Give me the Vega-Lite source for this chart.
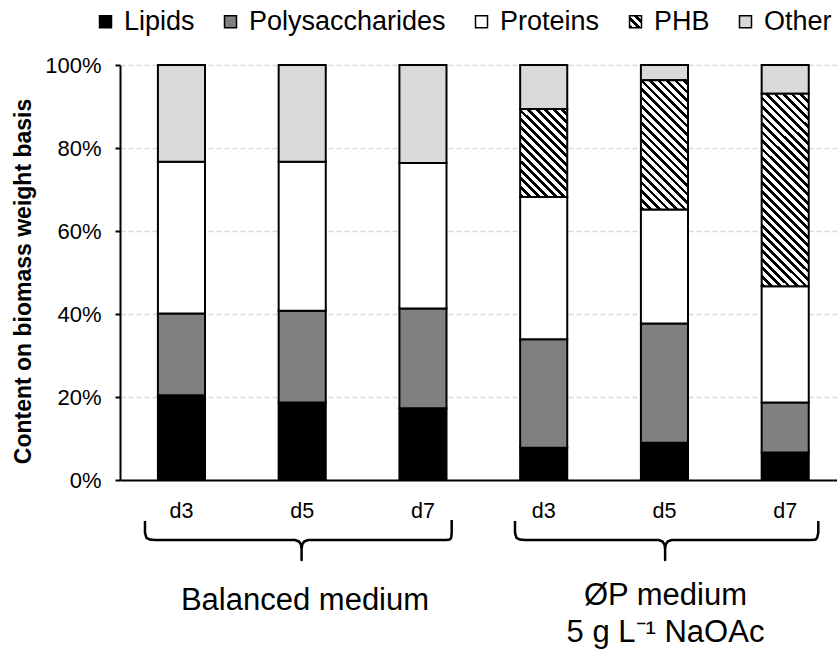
{
  "$schema": "https://vega.github.io/schema/vega-lite/v6.json",
  "autosize": {"type": "none"},
  "padding": {"left": 120, "top": 65, "right": 0, "bottom": 177},
  "width": 717,
  "height": 415,
  "background": "#ffffff",
  "config": {"font": "Liberation Sans", "view": {"stroke": null}},
  "params": [
    {"name": "phbLegendFill", "value": {"gradient": "linear", "x1": 0, "y1": 1, "x2": 1, "y2": 0, "stops": [
      {"offset": 0, "color": "#000000"}, {"offset": 0.15, "color": "#000000"}, {"offset": 0.15, "color": "#ffffff"}, {"offset": 0.333, "color": "#ffffff"},
      {"offset": 0.333, "color": "#000000"}, {"offset": 0.483, "color": "#000000"}, {"offset": 0.483, "color": "#ffffff"}, {"offset": 0.667, "color": "#ffffff"},
      {"offset": 0.667, "color": "#000000"}, {"offset": 0.817, "color": "#000000"}, {"offset": 0.817, "color": "#ffffff"}, {"offset": 1, "color": "#ffffff"}]}}
  ],
  "datasets": {
    "bars": [
      {"cat": "B-d3", "comp": "Lipids", "ord": 1, "value": 0.204},
      {"cat": "B-d3", "comp": "Polysaccharides", "ord": 2, "value": 0.197},
      {"cat": "B-d3", "comp": "Proteins", "ord": 3, "value": 0.366},
      {"cat": "B-d3", "comp": "Other", "ord": 5, "value": 0.233},
      {"cat": "B-d5", "comp": "Lipids", "ord": 1, "value": 0.187},
      {"cat": "B-d5", "comp": "Polysaccharides", "ord": 2, "value": 0.221},
      {"cat": "B-d5", "comp": "Proteins", "ord": 3, "value": 0.359},
      {"cat": "B-d5", "comp": "Other", "ord": 5, "value": 0.233},
      {"cat": "B-d7", "comp": "Lipids", "ord": 1, "value": 0.173},
      {"cat": "B-d7", "comp": "Polysaccharides", "ord": 2, "value": 0.240},
      {"cat": "B-d7", "comp": "Proteins", "ord": 3, "value": 0.351},
      {"cat": "B-d7", "comp": "Other", "ord": 5, "value": 0.236},
      {"cat": "P-d3", "comp": "Lipids", "ord": 1, "value": 0.078},
      {"cat": "P-d3", "comp": "Polysaccharides", "ord": 2, "value": 0.261},
      {"cat": "P-d3", "comp": "Proteins", "ord": 3, "value": 0.343},
      {"cat": "P-d3", "comp": "PHB", "ord": 4, "value": 0.212},
      {"cat": "P-d3", "comp": "Other", "ord": 5, "value": 0.106},
      {"cat": "P-d5", "comp": "Lipids", "ord": 1, "value": 0.090},
      {"cat": "P-d5", "comp": "Polysaccharides", "ord": 2, "value": 0.287},
      {"cat": "P-d5", "comp": "Proteins", "ord": 3, "value": 0.275},
      {"cat": "P-d5", "comp": "PHB", "ord": 4, "value": 0.311},
      {"cat": "P-d5", "comp": "Other", "ord": 5, "value": 0.037},
      {"cat": "P-d7", "comp": "Lipids", "ord": 1, "value": 0.066},
      {"cat": "P-d7", "comp": "Polysaccharides", "ord": 2, "value": 0.121},
      {"cat": "P-d7", "comp": "Proteins", "ord": 3, "value": 0.280},
      {"cat": "P-d7", "comp": "PHB", "ord": 4, "value": 0.464},
      {"cat": "P-d7", "comp": "Other", "ord": 5, "value": 0.069}
    ],
    "brace": [
      {"grp": "B", "k": 1, "bx": -0.3023, "by": -0.0988},
      {"grp": "B", "k": 2, "bx": -0.3023, "by": -0.1277},
      {"grp": "B", "k": 3, "bx": -0.2899, "by": -0.1393},
      {"grp": "B", "k": 4, "bx": -0.2609, "by": -0.1436},
      {"grp": "B", "k": 5, "bx": -0.2195, "by": -0.1446},
      {"grp": "B", "k": 6, "bx": 0.9400, "by": -0.1446},
      {"grp": "B", "k": 7, "bx": 0.9731, "by": -0.1482},
      {"grp": "B", "k": 8, "bx": 0.9896, "by": -0.1554},
      {"grp": "B", "k": 9, "bx": 0.9946, "by": -0.1663},
      {"grp": "B", "k": 10, "bx": 0.9946, "by": -0.1928},
      {"grp": "B", "k": 11, "bx": 0.9946, "by": -0.1663},
      {"grp": "B", "k": 12, "bx": 0.9996, "by": -0.1554},
      {"grp": "B", "k": 13, "bx": 1.0161, "by": -0.1482},
      {"grp": "B", "k": 14, "bx": 1.0493, "by": -0.1446},
      {"grp": "B", "k": 15, "bx": 2.1946, "by": -0.1446},
      {"grp": "B", "k": 16, "bx": 2.2203, "by": -0.1436},
      {"grp": "B", "k": 17, "bx": 2.2335, "by": -0.1393},
      {"grp": "B", "k": 18, "bx": 2.2377, "by": -0.1277},
      {"grp": "B", "k": 19, "bx": 2.2377, "by": -0.0964},
      {"grp": "P", "k": 1, "bx": 2.7619, "by": -0.0988},
      {"grp": "P", "k": 2, "bx": 2.7619, "by": -0.1277},
      {"grp": "P", "k": 3, "bx": 2.7743, "by": -0.1393},
      {"grp": "P", "k": 4, "bx": 2.8033, "by": -0.1436},
      {"grp": "P", "k": 5, "bx": 2.8447, "by": -0.1446},
      {"grp": "P", "k": 6, "bx": 3.9503, "by": -0.1446},
      {"grp": "P", "k": 7, "bx": 3.9834, "by": -0.1482},
      {"grp": "P", "k": 8, "bx": 4.0000, "by": -0.1554},
      {"grp": "P", "k": 9, "bx": 4.0050, "by": -0.1663},
      {"grp": "P", "k": 10, "bx": 4.0050, "by": -0.1928},
      {"grp": "P", "k": 11, "bx": 4.0050, "by": -0.1663},
      {"grp": "P", "k": 12, "bx": 4.0099, "by": -0.1554},
      {"grp": "P", "k": 13, "bx": 4.0265, "by": -0.1482},
      {"grp": "P", "k": 14, "bx": 4.0596, "by": -0.1446},
      {"grp": "P", "k": 15, "bx": 5.2199, "by": -0.1446},
      {"grp": "P", "k": 16, "bx": 5.2530, "by": -0.1436},
      {"grp": "P", "k": 17, "bx": 5.2638, "by": -0.1393},
      {"grp": "P", "k": 18, "bx": 5.2737, "by": -0.1277},
      {"grp": "P", "k": 19, "bx": 5.2737, "by": -0.0988}
    ],
    "labels": [
      {"label": "Balanced medium", "tx": 1.0228, "ty": -0.3133},
      {"label": "ØP medium", "tx": 4.0083, "ty": -0.3012},
      {"label": "5 g L⁻¹ NaOAc", "tx": 4.0083, "ty": -0.3896}
    ]
  },
  "layer": [
    {
      "data": {"name": "bars"},
      "transform": [
        {"stack": "value", "groupby": ["cat"], "sort": [{"field": "ord", "order": "ascending"}], "as": ["s0", "s1"]},
        {"filter": "datum.comp !== 'PHB'"}
      ],
      "mark": {"type": "bar", "stroke": "#000000", "strokeWidth": 2},
      "encoding": {
        "x": {
          "field": "cat", "type": "nominal",
          "scale": {"domain": ["B-d3", "B-d5", "B-d7", "P-d3", "P-d5", "P-d7"], "paddingInner": 0.61, "paddingOuter": 0.274, "align": 0.573},
          "axis": {"title": null, "labelExpr": "split(datum.label, '-')[1]", "ticks": false, "tickSize": 0, "labelPadding": 20, "labelFontSize": 21.5, "labelColor": "#000000", "labelAngle": 0, "domainColor": "#000000", "domainWidth": 2, "grid": false}
        },
        "y": {
          "field": "s0", "type": "quantitative",
          "scale": {"domain": [0, 1], "nice": false},
          "axis": {"values": [0, 0.2, 0.4, 0.6, 0.8, 1], "format": ".0%", "labelFontSize": 22, "labelColor": "#000000", "labelPadding": 14, "domainColor": "#000000", "domainWidth": 2, "tickColor": "#000000", "tickWidth": 2, "tickSize": 5, "grid": true, "gridColor": "#d9d9d9", "gridDash": [5, 3], "gridWidth": 1.5, "title": "Content on biomass weight basis", "titleFontSize": 23, "titleFontWeight": "bold", "titleColor": "#000000", "titleX": -90, "titleY": 216, "titleAngle": 270, "titleAlign": "center", "titleBaseline": "alphabetic"}
        },
        "y2": {"field": "s1"},
        "color": {
          "field": "comp", "type": "nominal",
          "scale": {
            "domain": ["Lipids", "Polysaccharides", "Proteins", "PHB", "Other"],
            "range": ["#000000", "#808080", "#ffffff", {"expr": "phbLegendFill"}, "#d9d9d9"]
          },
          "legend": {
            "orient": "none", "legendX": -28, "legendY": -57, "direction": "horizontal", "title": null, "padding": 0,
            "labelFontSize": 27, "labelColor": "#000000", "labelLimit": 400, "labelOffset": 5,
            "symbolType": "square", "symbolSize": 144, "symbolStrokeColor": "#000000", "symbolStrokeWidth": 1.5,
            "columnPadding": 22,
            "encode": {"symbols": {"update": {
              "stroke": {"value": "#000000"},
              "strokeWidth": {"value": 1.5}
            }}}
          }
        }
      }
    },
    {
      "data": {"name": "bars"},
      "transform": [
        {"stack": "value", "groupby": ["cat"], "sort": [{"field": "ord", "order": "ascending"}], "as": ["s0", "s1"]},
        {"filter": "datum.comp === 'PHB'"}
      ],
      "mark": {"type": "bar", "stroke": "#000000", "strokeWidth": 2},
      "encoding": {
        "x": {
          "field": "cat", "type": "nominal",
          "scale": {"domain": ["B-d3", "B-d5", "B-d7", "P-d3", "P-d5", "P-d7"], "paddingInner": 0.61, "paddingOuter": 0.274, "align": 0.573},
          "axis": null
        },
        "y": {"field": "s0", "type": "quantitative", "scale": {"domain": [0, 1], "nice": false}},
        "y2": {"field": "s1"},
        "fill": {
          "condition": [
            {"test": "datum.cat === 'P-d3'", "value": {"gradient": "linear", "x1": 0, "y1": 1, "x2": 1.2042, "y2": -1.2546, "stops": [
                {"offset": 0, "color": "#000000"}, {"offset": 0.015, "color": "#000000"}, {"offset": 0.015, "color": "#ffffff"}, {"offset": 0.0333, "color": "#ffffff"},
                {"offset": 0.0333, "color": "#000000"}, {"offset": 0.0483, "color": "#000000"}, {"offset": 0.0483, "color": "#ffffff"}, {"offset": 0.0667, "color": "#ffffff"},
                {"offset": 0.0667, "color": "#000000"}, {"offset": 0.0817, "color": "#000000"}, {"offset": 0.0817, "color": "#ffffff"}, {"offset": 0.1, "color": "#ffffff"},
                {"offset": 0.1, "color": "#000000"}, {"offset": 0.115, "color": "#000000"}, {"offset": 0.115, "color": "#ffffff"}, {"offset": 0.1333, "color": "#ffffff"},
                {"offset": 0.1333, "color": "#000000"}, {"offset": 0.1483, "color": "#000000"}, {"offset": 0.1483, "color": "#ffffff"}, {"offset": 0.1667, "color": "#ffffff"},
                {"offset": 0.1667, "color": "#000000"}, {"offset": 0.1817, "color": "#000000"}, {"offset": 0.1817, "color": "#ffffff"}, {"offset": 0.2, "color": "#ffffff"},
                {"offset": 0.2, "color": "#000000"}, {"offset": 0.215, "color": "#000000"}, {"offset": 0.215, "color": "#ffffff"}, {"offset": 0.2333, "color": "#ffffff"},
                {"offset": 0.2333, "color": "#000000"}, {"offset": 0.2483, "color": "#000000"}, {"offset": 0.2483, "color": "#ffffff"}, {"offset": 0.2667, "color": "#ffffff"},
                {"offset": 0.2667, "color": "#000000"}, {"offset": 0.2817, "color": "#000000"}, {"offset": 0.2817, "color": "#ffffff"}, {"offset": 0.3, "color": "#ffffff"},
                {"offset": 0.3, "color": "#000000"}, {"offset": 0.315, "color": "#000000"}, {"offset": 0.315, "color": "#ffffff"}, {"offset": 0.3333, "color": "#ffffff"},
                {"offset": 0.3333, "color": "#000000"}, {"offset": 0.3483, "color": "#000000"}, {"offset": 0.3483, "color": "#ffffff"}, {"offset": 0.3667, "color": "#ffffff"},
                {"offset": 0.3667, "color": "#000000"}, {"offset": 0.3817, "color": "#000000"}, {"offset": 0.3817, "color": "#ffffff"}, {"offset": 0.4, "color": "#ffffff"},
                {"offset": 0.4, "color": "#000000"}, {"offset": 0.415, "color": "#000000"}, {"offset": 0.415, "color": "#ffffff"}, {"offset": 0.4333, "color": "#ffffff"},
                {"offset": 0.4333, "color": "#000000"}, {"offset": 0.4483, "color": "#000000"}, {"offset": 0.4483, "color": "#ffffff"}, {"offset": 0.4667, "color": "#ffffff"},
                {"offset": 0.4667, "color": "#000000"}, {"offset": 0.4817, "color": "#000000"}, {"offset": 0.4817, "color": "#ffffff"}, {"offset": 0.5, "color": "#ffffff"},
                {"offset": 0.5, "color": "#000000"}, {"offset": 0.515, "color": "#000000"}, {"offset": 0.515, "color": "#ffffff"}, {"offset": 0.5333, "color": "#ffffff"},
                {"offset": 0.5333, "color": "#000000"}, {"offset": 0.5483, "color": "#000000"}, {"offset": 0.5483, "color": "#ffffff"}, {"offset": 0.5667, "color": "#ffffff"},
                {"offset": 0.5667, "color": "#000000"}, {"offset": 0.5817, "color": "#000000"}, {"offset": 0.5817, "color": "#ffffff"}, {"offset": 1, "color": "#ffffff"}]}},
            {"test": "datum.cat === 'P-d5'", "value": {"gradient": "linear", "x1": 0, "y1": 1, "x2": 0.6358, "y2": -0.7451, "stops": [
                {"offset": 0, "color": "#000000"}, {"offset": 0.015, "color": "#000000"}, {"offset": 0.015, "color": "#ffffff"}, {"offset": 0.0333, "color": "#ffffff"},
                {"offset": 0.0333, "color": "#000000"}, {"offset": 0.0483, "color": "#000000"}, {"offset": 0.0483, "color": "#ffffff"}, {"offset": 0.0667, "color": "#ffffff"},
                {"offset": 0.0667, "color": "#000000"}, {"offset": 0.0817, "color": "#000000"}, {"offset": 0.0817, "color": "#ffffff"}, {"offset": 0.1, "color": "#ffffff"},
                {"offset": 0.1, "color": "#000000"}, {"offset": 0.115, "color": "#000000"}, {"offset": 0.115, "color": "#ffffff"}, {"offset": 0.1333, "color": "#ffffff"},
                {"offset": 0.1333, "color": "#000000"}, {"offset": 0.1483, "color": "#000000"}, {"offset": 0.1483, "color": "#ffffff"}, {"offset": 0.1667, "color": "#ffffff"},
                {"offset": 0.1667, "color": "#000000"}, {"offset": 0.1817, "color": "#000000"}, {"offset": 0.1817, "color": "#ffffff"}, {"offset": 0.2, "color": "#ffffff"},
                {"offset": 0.2, "color": "#000000"}, {"offset": 0.215, "color": "#000000"}, {"offset": 0.215, "color": "#ffffff"}, {"offset": 0.2333, "color": "#ffffff"},
                {"offset": 0.2333, "color": "#000000"}, {"offset": 0.2483, "color": "#000000"}, {"offset": 0.2483, "color": "#ffffff"}, {"offset": 0.2667, "color": "#ffffff"},
                {"offset": 0.2667, "color": "#000000"}, {"offset": 0.2817, "color": "#000000"}, {"offset": 0.2817, "color": "#ffffff"}, {"offset": 0.3, "color": "#ffffff"},
                {"offset": 0.3, "color": "#000000"}, {"offset": 0.315, "color": "#000000"}, {"offset": 0.315, "color": "#ffffff"}, {"offset": 0.3333, "color": "#ffffff"},
                {"offset": 0.3333, "color": "#000000"}, {"offset": 0.3483, "color": "#000000"}, {"offset": 0.3483, "color": "#ffffff"}, {"offset": 0.3667, "color": "#ffffff"},
                {"offset": 0.3667, "color": "#000000"}, {"offset": 0.3817, "color": "#000000"}, {"offset": 0.3817, "color": "#ffffff"}, {"offset": 0.4, "color": "#ffffff"},
                {"offset": 0.4, "color": "#000000"}, {"offset": 0.415, "color": "#000000"}, {"offset": 0.415, "color": "#ffffff"}, {"offset": 0.4333, "color": "#ffffff"},
                {"offset": 0.4333, "color": "#000000"}, {"offset": 0.4483, "color": "#000000"}, {"offset": 0.4483, "color": "#ffffff"}, {"offset": 0.4667, "color": "#ffffff"},
                {"offset": 0.4667, "color": "#000000"}, {"offset": 0.4817, "color": "#000000"}, {"offset": 0.4817, "color": "#ffffff"}, {"offset": 0.5, "color": "#ffffff"},
                {"offset": 0.5, "color": "#000000"}, {"offset": 0.515, "color": "#000000"}, {"offset": 0.515, "color": "#ffffff"}, {"offset": 0.5333, "color": "#ffffff"},
                {"offset": 0.5333, "color": "#000000"}, {"offset": 0.5483, "color": "#000000"}, {"offset": 0.5483, "color": "#ffffff"}, {"offset": 0.5667, "color": "#ffffff"},
                {"offset": 0.5667, "color": "#000000"}, {"offset": 0.5817, "color": "#000000"}, {"offset": 0.5817, "color": "#ffffff"}, {"offset": 0.6, "color": "#ffffff"},
                {"offset": 0.6, "color": "#000000"}, {"offset": 0.615, "color": "#000000"}, {"offset": 0.615, "color": "#ffffff"}, {"offset": 0.6333, "color": "#ffffff"},
                {"offset": 0.6333, "color": "#000000"}, {"offset": 0.6483, "color": "#000000"}, {"offset": 0.6483, "color": "#ffffff"}, {"offset": 0.6667, "color": "#ffffff"},
                {"offset": 0.6667, "color": "#000000"}, {"offset": 0.6817, "color": "#000000"}, {"offset": 0.6817, "color": "#ffffff"}, {"offset": 0.7, "color": "#ffffff"},
                {"offset": 0.7, "color": "#000000"}, {"offset": 0.715, "color": "#000000"}, {"offset": 0.715, "color": "#ffffff"}, {"offset": 0.7333, "color": "#ffffff"},
                {"offset": 0.7333, "color": "#000000"}, {"offset": 0.7483, "color": "#000000"}, {"offset": 0.7483, "color": "#ffffff"}, {"offset": 1, "color": "#ffffff"}]}}
          ],
          "value": {"gradient": "linear", "x1": 0, "y1": 1, "x2": 0.3037, "y2": -0.2473, "stops": [
                {"offset": 0, "color": "#000000"}, {"offset": 0.015, "color": "#000000"}, {"offset": 0.015, "color": "#ffffff"}, {"offset": 0.0333, "color": "#ffffff"},
                {"offset": 0.0333, "color": "#000000"}, {"offset": 0.0483, "color": "#000000"}, {"offset": 0.0483, "color": "#ffffff"}, {"offset": 0.0667, "color": "#ffffff"},
                {"offset": 0.0667, "color": "#000000"}, {"offset": 0.0817, "color": "#000000"}, {"offset": 0.0817, "color": "#ffffff"}, {"offset": 0.1, "color": "#ffffff"},
                {"offset": 0.1, "color": "#000000"}, {"offset": 0.115, "color": "#000000"}, {"offset": 0.115, "color": "#ffffff"}, {"offset": 0.1333, "color": "#ffffff"},
                {"offset": 0.1333, "color": "#000000"}, {"offset": 0.1483, "color": "#000000"}, {"offset": 0.1483, "color": "#ffffff"}, {"offset": 0.1667, "color": "#ffffff"},
                {"offset": 0.1667, "color": "#000000"}, {"offset": 0.1817, "color": "#000000"}, {"offset": 0.1817, "color": "#ffffff"}, {"offset": 0.2, "color": "#ffffff"},
                {"offset": 0.2, "color": "#000000"}, {"offset": 0.215, "color": "#000000"}, {"offset": 0.215, "color": "#ffffff"}, {"offset": 0.2333, "color": "#ffffff"},
                {"offset": 0.2333, "color": "#000000"}, {"offset": 0.2483, "color": "#000000"}, {"offset": 0.2483, "color": "#ffffff"}, {"offset": 0.2667, "color": "#ffffff"},
                {"offset": 0.2667, "color": "#000000"}, {"offset": 0.2817, "color": "#000000"}, {"offset": 0.2817, "color": "#ffffff"}, {"offset": 0.3, "color": "#ffffff"},
                {"offset": 0.3, "color": "#000000"}, {"offset": 0.315, "color": "#000000"}, {"offset": 0.315, "color": "#ffffff"}, {"offset": 0.3333, "color": "#ffffff"},
                {"offset": 0.3333, "color": "#000000"}, {"offset": 0.3483, "color": "#000000"}, {"offset": 0.3483, "color": "#ffffff"}, {"offset": 0.3667, "color": "#ffffff"},
                {"offset": 0.3667, "color": "#000000"}, {"offset": 0.3817, "color": "#000000"}, {"offset": 0.3817, "color": "#ffffff"}, {"offset": 0.4, "color": "#ffffff"},
                {"offset": 0.4, "color": "#000000"}, {"offset": 0.415, "color": "#000000"}, {"offset": 0.415, "color": "#ffffff"}, {"offset": 0.4333, "color": "#ffffff"},
                {"offset": 0.4333, "color": "#000000"}, {"offset": 0.4483, "color": "#000000"}, {"offset": 0.4483, "color": "#ffffff"}, {"offset": 0.4667, "color": "#ffffff"},
                {"offset": 0.4667, "color": "#000000"}, {"offset": 0.4817, "color": "#000000"}, {"offset": 0.4817, "color": "#ffffff"}, {"offset": 0.5, "color": "#ffffff"},
                {"offset": 0.5, "color": "#000000"}, {"offset": 0.515, "color": "#000000"}, {"offset": 0.515, "color": "#ffffff"}, {"offset": 0.5333, "color": "#ffffff"},
                {"offset": 0.5333, "color": "#000000"}, {"offset": 0.5483, "color": "#000000"}, {"offset": 0.5483, "color": "#ffffff"}, {"offset": 0.5667, "color": "#ffffff"},
                {"offset": 0.5667, "color": "#000000"}, {"offset": 0.5817, "color": "#000000"}, {"offset": 0.5817, "color": "#ffffff"}, {"offset": 0.6, "color": "#ffffff"},
                {"offset": 0.6, "color": "#000000"}, {"offset": 0.615, "color": "#000000"}, {"offset": 0.615, "color": "#ffffff"}, {"offset": 0.6333, "color": "#ffffff"},
                {"offset": 0.6333, "color": "#000000"}, {"offset": 0.6483, "color": "#000000"}, {"offset": 0.6483, "color": "#ffffff"}, {"offset": 0.6667, "color": "#ffffff"},
                {"offset": 0.6667, "color": "#000000"}, {"offset": 0.6817, "color": "#000000"}, {"offset": 0.6817, "color": "#ffffff"}, {"offset": 0.7, "color": "#ffffff"},
                {"offset": 0.7, "color": "#000000"}, {"offset": 0.715, "color": "#000000"}, {"offset": 0.715, "color": "#ffffff"}, {"offset": 0.7333, "color": "#ffffff"},
                {"offset": 0.7333, "color": "#000000"}, {"offset": 0.7483, "color": "#000000"}, {"offset": 0.7483, "color": "#ffffff"}, {"offset": 0.7667, "color": "#ffffff"},
                {"offset": 0.7667, "color": "#000000"}, {"offset": 0.7817, "color": "#000000"}, {"offset": 0.7817, "color": "#ffffff"}, {"offset": 0.8, "color": "#ffffff"},
                {"offset": 0.8, "color": "#000000"}, {"offset": 0.815, "color": "#000000"}, {"offset": 0.815, "color": "#ffffff"}, {"offset": 0.8333, "color": "#ffffff"},
                {"offset": 0.8333, "color": "#000000"}, {"offset": 0.8483, "color": "#000000"}, {"offset": 0.8483, "color": "#ffffff"}, {"offset": 0.8667, "color": "#ffffff"},
                {"offset": 0.8667, "color": "#000000"}, {"offset": 0.8817, "color": "#000000"}, {"offset": 0.8817, "color": "#ffffff"}, {"offset": 0.9, "color": "#ffffff"},
                {"offset": 0.9, "color": "#000000"}, {"offset": 0.915, "color": "#000000"}, {"offset": 0.915, "color": "#ffffff"}, {"offset": 0.9333, "color": "#ffffff"},
                {"offset": 0.9333, "color": "#000000"}, {"offset": 0.9483, "color": "#000000"}, {"offset": 0.9483, "color": "#ffffff"}, {"offset": 0.9667, "color": "#ffffff"},
                {"offset": 0.9667, "color": "#000000"}, {"offset": 0.9817, "color": "#000000"}, {"offset": 0.9817, "color": "#ffffff"}, {"offset": 1, "color": "#ffffff"}]}
        }
      }
    },
    {
      "mark": {"type": "rule", "color": "#000000", "strokeWidth": 2.5},
      "encoding": {"y": {"datum": 1, "type": "quantitative", "scale": {"domain": [0, 1], "nice": false}}}
    },
    {
      "data": {"name": "brace"},
      "mark": {"type": "line", "color": "#000000", "strokeWidth": 2.5, "strokeJoin": "round"},
      "encoding": {
        "x": {"field": "bx", "type": "quantitative", "scale": {"domain": [-0.5093, 5.4286], "nice": false, "zero": false}, "axis": null},
        "y": {"field": "by", "type": "quantitative", "scale": {"domain": [0, 1], "nice": false}},
        "detail": {"field": "grp"},
        "order": {"field": "k", "type": "quantitative"}
      }
    },
    {
      "data": {"name": "labels"},
      "mark": {"type": "text", "fontSize": 31, "align": "center", "baseline": "alphabetic", "color": "#000000", "font": "Liberation Sans"},
      "encoding": {
        "x": {"field": "tx", "type": "quantitative", "scale": {"domain": [-0.5093, 5.4286], "nice": false, "zero": false}, "axis": null},
        "y": {"field": "ty", "type": "quantitative", "scale": {"domain": [0, 1], "nice": false}},
        "text": {"field": "label"}
      }
    }
  ],
  "resolve": {"scale": {"x": "independent"}}
}
